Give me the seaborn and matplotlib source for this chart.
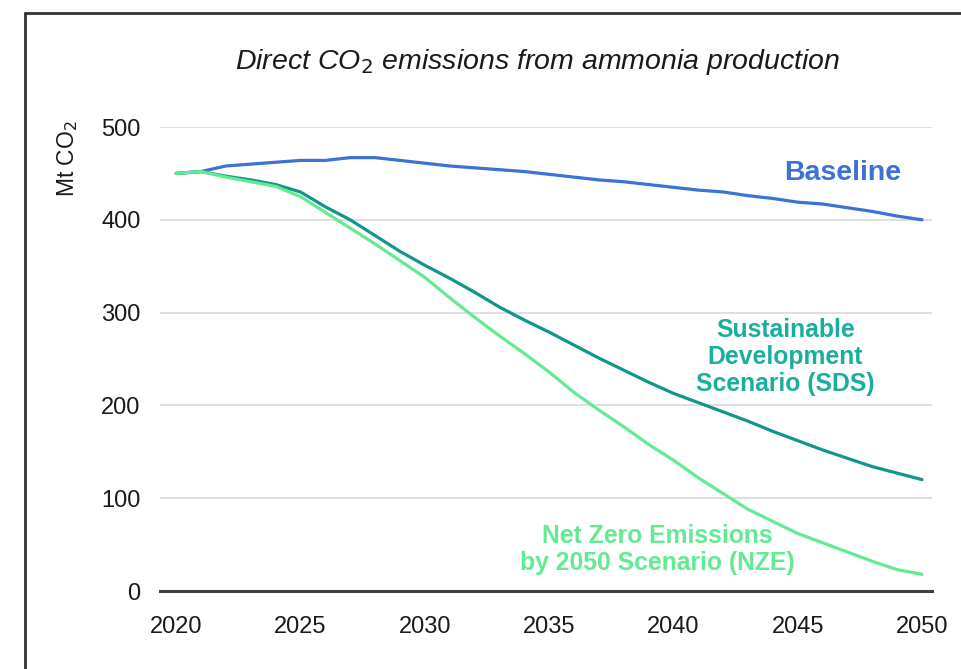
import numpy as np
import pandas as pd
import matplotlib
matplotlib.use("Agg")
import matplotlib.pyplot as plt
import seaborn as sns

years = list(range(2020, 2051))
baseline = [450, 452, 458, 460, 462, 464, 464, 467, 467, 464, 461, 458, 456, 454, 452,
            449, 446, 443, 441, 438, 435, 432, 430, 426, 423, 419, 417, 413, 409, 404, 400]
sds = [450, 452, 447, 443, 438, 430, 414, 400, 383, 366, 351, 337, 322, 306, 292,
       279, 265, 251, 238, 225, 213, 203, 193, 183, 172, 162, 152, 143, 134, 127, 120]
nze = [450, 452, 446, 441, 436, 425, 408, 391, 374, 356, 338, 316, 295, 275, 256,
       236, 214, 195, 177, 158, 141, 122, 105, 88, 75, 62, 52, 42, 32, 23, 18]
series_names = ["Baseline", "SDS", "NZE"]
x_ticks = [2020, 2025, 2030, 2035, 2040, 2045, 2050]
y_ticks = [0, 100, 200, 300, 400, 500]

colors = {"Baseline": "#3b72d3", "SDS": "#12968c", "NZE": "#62eb92"}

df = pd.DataFrame({"year": years, "Baseline": baseline, "SDS": sds, "NZE": nze})
long = df.melt(id_vars="year", value_vars=series_names, var_name="scenario", value_name="value")

sns.set_theme(style="white")
plt.rcParams["font.family"] = ["Liberation Sans", "DejaVu Sans"]

fig = plt.figure(figsize=(9.61, 6.69), dpi=100)
ax = fig.add_axes([160 / 961, 1 - 591 / 669, (932 - 160) / 961, (591 - 127) / 669])

sns.lineplot(data=long, x="year", y="value", hue="scenario", hue_order=series_names,
             palette=colors, linewidth=2.3, ax=ax, legend=False)

ax.set_xlim(2019.35, 2050.4)
ax.set_ylim(0, 500)
ax.set_xticks(x_ticks)
ax.set_yticks(y_ticks)
ax.grid(axis="y", color="#d9d9d9", linewidth=1.2)
ax.set_axisbelow(True)
for s in ["top", "right", "left"]:
    ax.spines[s].set_visible(False)
ax.spines["bottom"].set_color("#404040")
ax.spines["bottom"].set_linewidth(2.2)
ax.spines["bottom"].set_zorder(3)
ax.tick_params(axis="both", length=0, labelsize=17, colors="#1a1a1a")
ax.tick_params(axis="x", pad=18)
ax.tick_params(axis="y", pad=14)
ax.set_xlabel("")
ax.set_ylabel("")

fig.text(538 / 961, 1 - 62 / 669, "Direct CO$_2$ emissions from ammonia production",
         ha="center", va="center", fontsize=20.5, style="italic", color="#1a1a1a")
fig.text(68 / 961, 1 - 159 / 669, "Mt CO$_2$", rotation=90, ha="center", va="center",
         fontsize=16.5, color="#1a1a1a")

ax.text(2046.8, 450, "Baseline", ha="center", va="center", fontsize=20.5,
        fontweight="bold", color="#3b72d3")
ax.text(2044.5, 252, "Sustainable\nDevelopment\nScenario (SDS)", ha="center", va="center",
        fontsize=17.8, fontweight="bold", color="#1aae9e", linespacing=1.17)
ax.text(2039.35, 45, "Net Zero Emissions\nby 2050 Scenario (NZE)", ha="center", va="center",
        fontsize=17.8, fontweight="bold", color="#62eb92", linespacing=1.17)

# figure frame (left and top edges visible in the reference)
fig.add_artist(plt.Line2D([25 / 961, 25 / 961], [0, 1 - 13 / 669], color="#333333",
                          linewidth=2, transform=fig.transFigure))
fig.add_artist(plt.Line2D([25 / 961, 1], [1 - 13 / 669, 1 - 13 / 669], color="#333333",
                          linewidth=2, transform=fig.transFigure))

fig.savefig("out.png", dpi=100)
